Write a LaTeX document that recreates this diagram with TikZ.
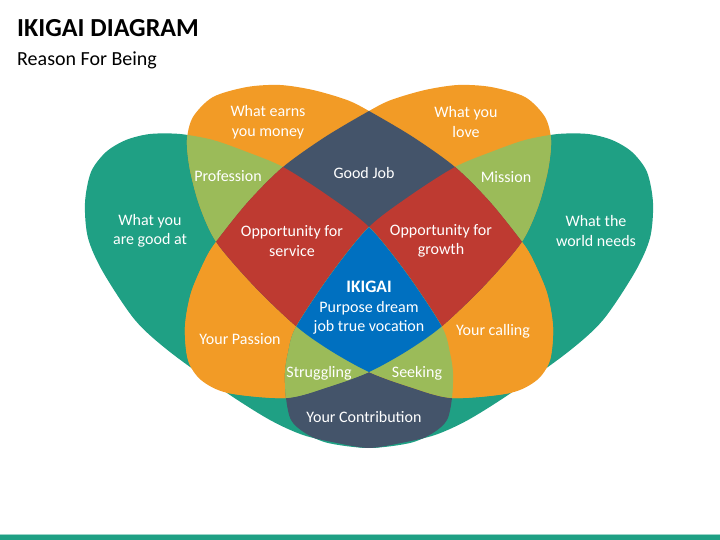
\documentclass[tikz,border=0pt]{standalone}
\usepackage{fontspec}
\setmainfont{Carlito}

\definecolor{ikteal}{HTML}{1FA084}
\definecolor{ikorange}{HTML}{F29B26}
\definecolor{ikgreen}{HTML}{9BBB59}
\definecolor{ikslate}{HTML}{44546A}
\definecolor{ikred}{HTML}{BE3A31}
\definecolor{ikblue}{HTML}{0070C0}

%% the four leaves, in slide points (y runs down)
\newcommand\goodleaf{plot[smooth cycle] coordinates {(85,203) (91,172) (106,152) (126,140) (150,134) (180,134) (213,140) (247,152) (283,167) (327,195) (369,227) (407,274) (442,327) (450,353) (453,373) (452,398) (447,420) (433,433) (410,443) (370,448) (337,443) (303,435) (270,420) (227,393) (170,352) (135,320) (103,272) (88,238)}}
\newcommand\needsleaf{plot[smooth cycle] coordinates {(653,203) (647,172) (632,152) (612,140) (588,134) (558,134) (525,140) (491,152) (455,167) (411,195) (369,227) (331,274) (296,327) (288,353) (285,373) (286,398) (291,420) (305,433) (328,443) (368,448) (401,443) (435,435) (468,420) (511,393) (568,352) (603,320) (635,272) (650,238)}}
\newcommand\moneyleaf{plot[smooth cycle] coordinates {(187,140) (193,117) (213,97) (247,87) (280,85) (313,90) (347,100) (369,111) (413,137) (455,167) (490,202) (522,242) (533,260) (547,293) (553,327) (550,360) (537,380) (510,393) (452,398) (410,387) (369,372) (331,351) (297,327) (255,287) (217,243) (200,207) (190,170)}}
\newcommand\loveleaf{plot[smooth cycle] coordinates {(551,140) (545,117) (525,97) (491,87) (458,85) (425,90) (391,100) (369,111) (325,137) (283,167) (248,202) (216,242) (205,260) (191,293) (185,327) (188,360) (201,380) (228,393) (286,398) (328,387) (369,372) (407,351) (441,327) (483,287) (521,243) (538,207) (548,170)}}

\tikzset{lbl/.style={text=white, align=center, inner sep=0pt, font=\fontsize{16}{19.5}\selectfont}}

\begin{document}
\begin{tikzpicture}[x=1pt, y=-1pt]
\useasboundingbox (0,0) rectangle (720,540);
\node[anchor=base west, inner sep=0pt, font=\fontsize{26}{31}\selectfont\bfseries] (title) at (17,37) {IKIGAI DIAGRAM};
\node[anchor=base west, inner sep=0pt, font=\fontsize{20}{24}\selectfont] (subtitle) at (17,66) {Reason For Being};

%% one set
\fill[ikteal] \goodleaf;
\fill[ikteal] \needsleaf;
\fill[ikorange] \moneyleaf;
\fill[ikorange] \loveleaf;
%% two sets
\begin{scope}
    \clip \goodleaf;
    \fill[ikgreen] \moneyleaf;
    \fill[ikorange] \loveleaf;
    \fill[ikslate] \needsleaf;
\end{scope}
\begin{scope}
    \clip \needsleaf;
    \fill[ikgreen] \loveleaf;
    \fill[ikorange] \moneyleaf;
\end{scope}
\begin{scope}
    \clip \moneyleaf;
    \fill[ikslate] \loveleaf;
\end{scope}
%% three sets
\begin{scope}
    \clip \moneyleaf;
    \clip \loveleaf;
    \fill[ikred] \goodleaf;
    \fill[ikred] \needsleaf;
\end{scope}
\begin{scope}
    \clip \goodleaf;
    \clip \needsleaf;
    \fill[ikgreen] \loveleaf;
    \fill[ikgreen] \moneyleaf;
\end{scope}
%% all four
\begin{scope}
    \clip \goodleaf;
    \clip \needsleaf;
    \clip \moneyleaf;
    \fill[ikblue] \loveleaf;
\end{scope}

\node[lbl] (money) at (268,122) {What earns\\you money};
\node[lbl] (love) at (466,122) {What you\\love};
\node[lbl] (good) at (150,231) {What you\\are good at};
\node[lbl] (needs) at (596,231) {What the\\world needs};
\node[lbl] (profession) at (228,176) {Profession};
\node[lbl] (goodjob) at (364,173) {Good Job};
\node[lbl] (mission) at (506,177) {Mission};
\node[lbl] (service) at (292,241) {Opportunity for\\service};
\node[lbl] (growth) at (441,241) {Opportunity for\\growth};
\node[lbl] (ikigai) at (369,308) {{\fontsize{17.5}{19.5}\selectfont\textbf{IKIGAI}}\\Purpose dream\\job true vocation};
\node[lbl] (passion) at (240,339) {Your Passion};
\node[lbl] (calling) at (493,331) {Your calling};
\node[lbl] (struggling) at (319,373) {Struggling};
\node[lbl] (seeking) at (417,373) {Seeking};
\node[lbl] (contribution) at (364,417) {Your Contribution};

\fill[ikteal!45] (0,533.5) rectangle (720,534.7);
\fill[ikteal] (0,534.7) rectangle (720,540);
\end{tikzpicture}
\end{document}
